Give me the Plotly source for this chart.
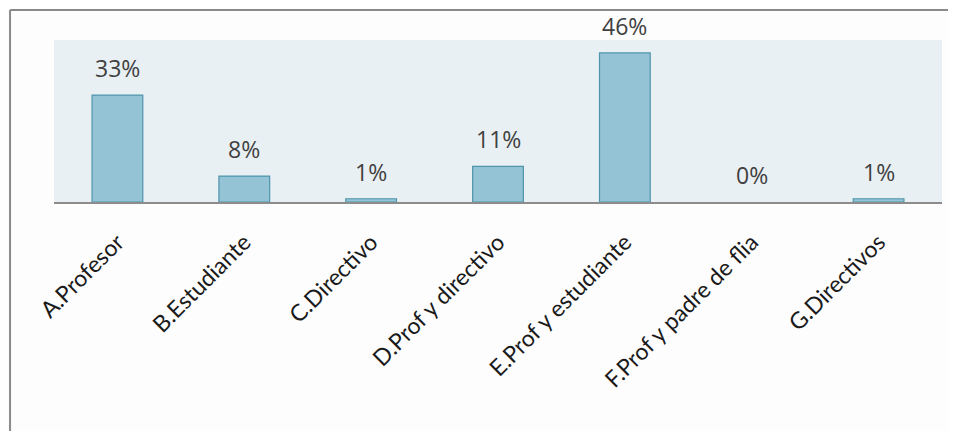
import plotly.graph_objects as go

# --- DATA ---
categories = [
    "A.Profesor",
    "B.Estudiante",
    "C.Directivo",
    "D.Prof y directivo",
    "E.Prof y estudiante",
    "F.Prof y padre de flia",
    "G.Directivos",
]
percentages = [33, 8, 1, 11, 46, 0, 1]
value_labels = [f"{v}%" for v in percentages]

fig = go.Figure()

fig.add_trace(go.Bar(
    x=categories,
    y=percentages,
    marker=dict(
        color="#93C3D4",
        # no outline on empty bars, so 0% shows nothing
        line=dict(color="#4F95AC", width=[1.2 if v > 0 else 0 for v in percentages]),
    ),
    hoverinfo="skip",
))

# value labels sit a fixed distance above each bar
for cat, val, lab in zip(categories, percentages, value_labels):
    fig.add_annotation(
        x=cat, y=val, text=lab, showarrow=False,
        yanchor="middle", yshift=27,
        font=dict(family="Open Sans", size=23, color="#404040"),
    )

# outer frame (top and left edges only, like the cropped original)
fig.add_shape(type="line", xref="paper", yref="paper",
              x0=-0.0495, x1=1.02, y0=1.185, y1=1.185,
              line=dict(color="#8A8A8A", width=2))
fig.add_shape(type="line", xref="paper", yref="paper",
              x0=-0.0495, x1=-0.0495, y0=1.185, y1=-1.45,
              line=dict(color="#8A8A8A", width=2))

# page body has an 8px margin, so the figure is sized/offset to fit the window
fig.update_layout(
    width=948, height=423,
    margin=dict(l=46, r=14, t=32, b=229),
    paper_bgcolor="#FDFDFD",
    plot_bgcolor="#E9F0F4",
    bargap=0.6,
    showlegend=False,
    xaxis=dict(
        automargin=False,
        tickangle=-45,
        tickfont=dict(family="Lato", size=23, color="#1A1A1A"),
        showline=True, linecolor="#8C8C8C", linewidth=1.5,
        ticks="outside", ticklen=0, tickcolor="rgba(0,0,0,0)",
        ticklabelstandoff=16,
        showgrid=False,
    ),
    yaxis=dict(
        automargin=False,
        range=[0, 50],
        visible=False,
        showgrid=False,
        zeroline=False,
    ),
)

fig.write_html("out.html")
